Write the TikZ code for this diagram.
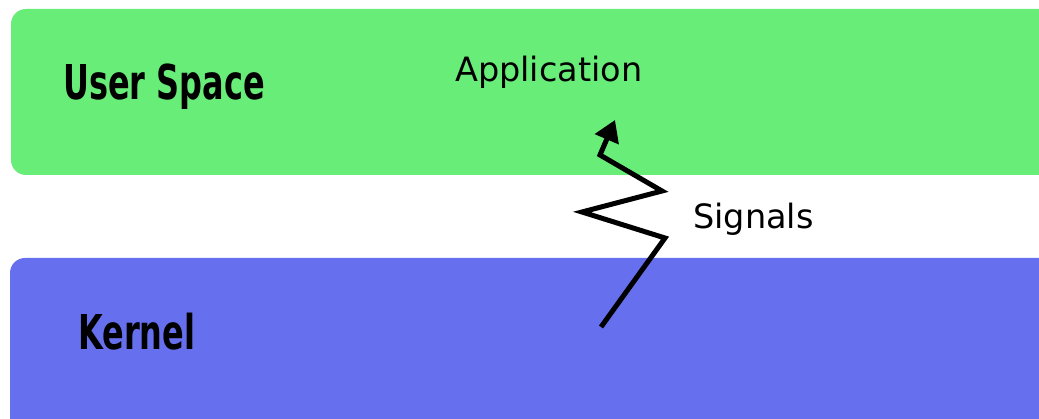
\documentclass[tikz,border=0pt]{standalone}
\usepackage{fontspec}
\setmainfont{DejaVu Sans}
\newfontfamily\layerfont{DejaVu Sans Condensed}
\usetikzlibrary{arrows.meta}
\definecolor{usergreen}{RGB}{104,238,120}
\definecolor{kernelblue}{RGB}{102,112,238}
\newcommand{\narrowtext}[1]{\scalebox{0.74}[1]{#1}}
\begin{document}
\begin{tikzpicture}[x=1pt, y=-1pt,
    layer/.style={inner sep=0pt, anchor=base west, font=\layerfont\bfseries\fontsize{48}{50}\selectfont},
    label/.style={inner sep=0pt, anchor=base west, font=\fontsize{33.5}{38}\selectfont}]
        \useasboundingbox (0,0) rectangle (1039,419);
        % layers
        \scope
        \clip (0,0) rectangle (1039,419);
        \fill[usergreen, rounded corners=15pt] (11,9) rectangle (1080,175);
        \fill[kernelblue, rounded corners=15pt] (10,258) rectangle (1080,440);
        \endscope
        % texts
        \node[layer] (user) at (63,100) {\narrowtext{User Space}};
        \node[layer] (kernel) at (78,350) {\narrowtext{Kernel}};
        \node[label] (app) at (455,82) {Application};
        \node[label] (sig) at (693,229) {Signals};
        % signal path
        \coordinate (sigstart) at (601,327);
        \coordinate (sigend) at (615,120);
        \draw[line width=5pt, -{Triangle[length=21pt, width=25pt]}]
          (sigstart) -- (665,238) -- (582,212) -- (662,191) -- (600,155) -- (sigend);
      \end{tikzpicture}
\end{document}
